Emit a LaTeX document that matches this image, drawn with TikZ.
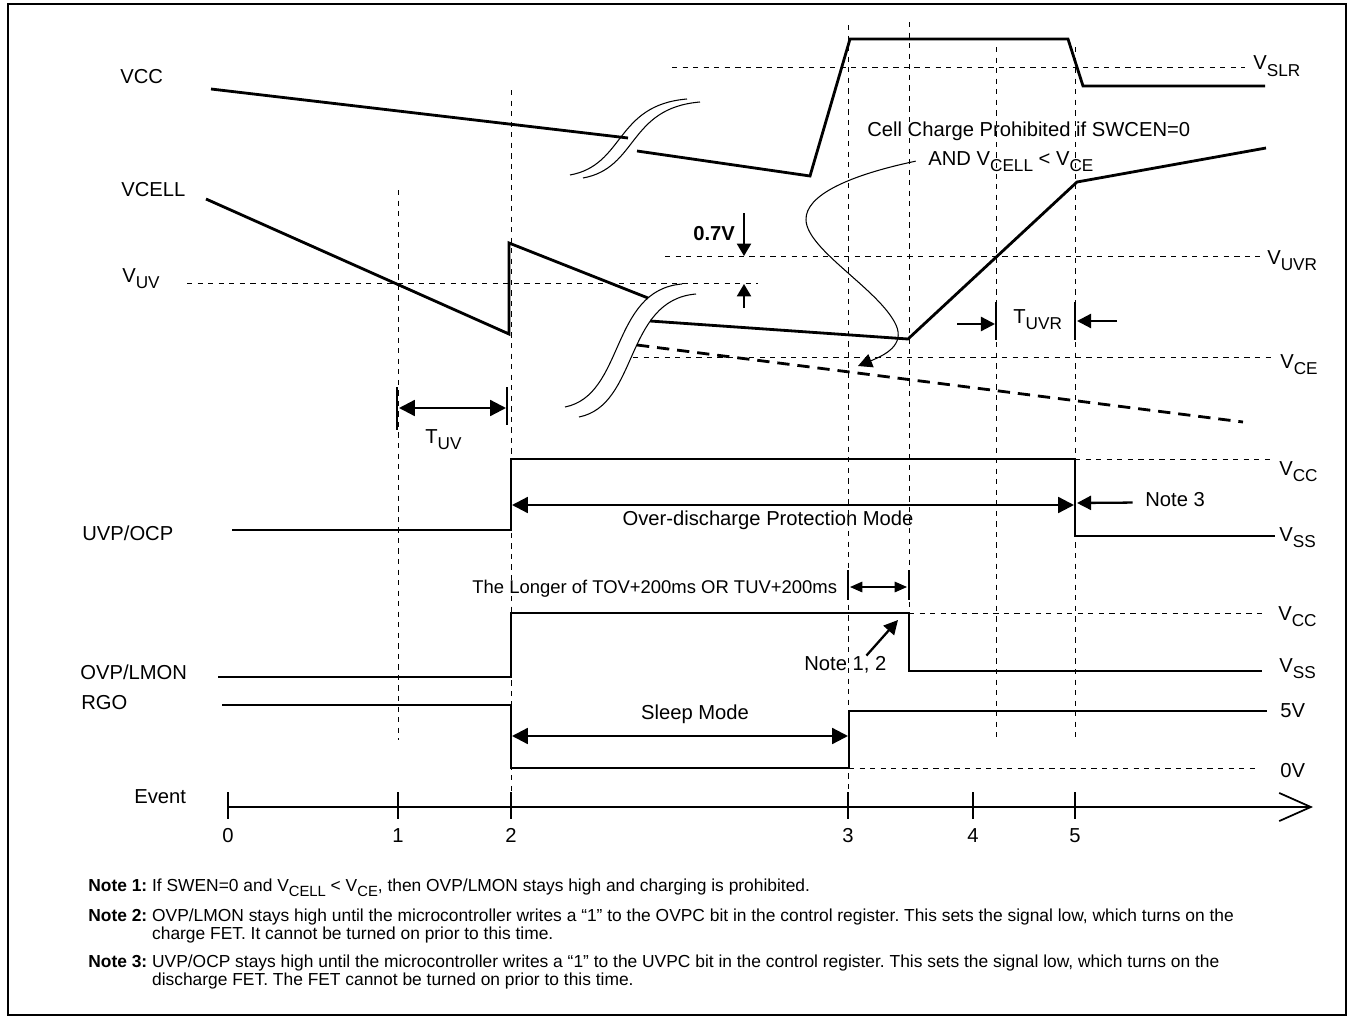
\documentclass[tikz,border=0pt]{standalone}
\usepackage{fontspec}
\setmainfont{Liberation Sans}
\usetikzlibrary{arrows.meta}
\newcommand{\lo}[1]{\raisebox{-0.3em}{\scalebox{0.85}{#1}}}
\frenchspacing
\begin{document}
\begin{tikzpicture}[x=0.02cm,y=-0.02cm,
  sig/.style={line width=1.6pt},
  refl/.style={line width=0.5pt,dash pattern=on 3pt off 3pt},
  brk/.style={line width=0.6pt},
  bar/.style={line width=1pt},
  dim/.style={line width=1.3pt,{Triangle[length=9pt,width=9pt]}-{Triangle[length=9pt,width=9pt]}},
  ptr/.style={line width=1.3pt,-{Triangle[length=8pt,width=8pt]}},
  lbl/.style={font=\fontsize{11.5}{13.5}\selectfont,inner sep=0pt,anchor=base west},
  note/.style={font=\fontsize{9.9}{10.4}\selectfont,inner sep=0pt,anchor=base west}]
\useasboundingbox (0,0) rectangle (1353,1021);
\draw[line width=0.8pt] (8,4) rectangle (1346,1015);
\foreach \x/\a/\b in {398/190/740,511/90/792,848/25/792,909/22/612,996/47/740,1075/47/740}
  \draw[refl] (\x,\a) -- (\x,\b);
\foreach \y/\a/\b in {67/672/1245,256/665/1260,283/187/758,357/633/1271,459/1075/1273,613/909/1264,768/849/1260}
  \draw[refl] (\a,\y) -- (\b,\y);
\node[lbl] (vcc) at (120,83) {VCC};
\node[lbl] (vcell) at (121,196) {VCELL};
\node[lbl] (vuv) at (122,282) {V\lo{UV}};
\node[lbl] (uvp) at (82,540) {UVP/OCP};
\node[lbl] (ovp) at (80,679) {OVP/LMON};
\node[lbl] (rgo) at (81,709) {RGO};
\node[lbl] (event) at (134,803) {Event};
\node[lbl] (vslr) at (1253,70) {V\lo{SLR}};
\node[lbl] (vuvr) at (1267,264) {V\lo{UVR}};
\node[lbl] (vce) at (1280,368) {V\lo{CE}};
\node[lbl] (vcca) at (1279,475) {V\lo{CC}};
\node[lbl] (vssa) at (1279,541) {V\lo{SS}};
\node[lbl] (vccb) at (1278,620) {V\lo{CC}};
\node[lbl] (vssb) at (1279,672) {V\lo{SS}};
\node[lbl] (fivev) at (1280,717) {5V};
\node[lbl] (zerov) at (1280,777) {0V};
\draw[sig] (211,89) -- (628,138);
\draw[sig] (637,151) -- (810,176) -- (850,39) -- (1068,39) -- (1083,86) -- (1265,86);
\draw[sig] (206,199) -- (509,334) -- (509,243) -- (648,298);
\draw[sig] (650,321) -- (908,339) -- (1077,182) -- (1266,148);
\draw[sig,dash pattern=on 7pt off 4.5pt] (637,345) -- (1243,422);
\draw[sig] (232,530) -- (511,530) -- (511,459) -- (1075,459) -- (1075,536) -- (1275,536);
\draw[sig] (218,677) -- (511,677) -- (511,613) -- (909,613) -- (909,671) -- (1262,671);
\draw[sig] (222,705) -- (511,705) -- (511,768) -- (849,768) -- (849,711) -- (1267,711);
\draw[brk] (570,175) .. controls (625,165) and (615,105) .. (687,99);
\draw[brk] (583,178) .. controls (638,168) and (628,108) .. (700,102);
\draw[brk] (565,407) .. controls (625,395) and (610,290) .. (682,284);
\draw[brk] (579,417) .. controls (639,405) and (624,300) .. (696,294);
\node[lbl] (cella) at (867,136) {Cell Charge Prohibited if SWCEN=0};
\node[lbl] (cellb) at (928,165) {AND V\lo{CELL} < V\lo{CE}};
\draw[brk,-{Triangle[length=8pt,width=8pt]}] ([xshift=-7pt]cellb.west) .. controls (850,175) and (805,195) .. (806,220)
  .. controls (807,250) and (880,290) .. (896,325) .. controls (905,345) and (885,355) .. (858,366);
\node[lbl,font=\bfseries\fontsize{11.5}{13.5}\selectfont] (dv) at (693,240) {0.7V};
\draw[line width=1pt,-{Triangle[length=7pt,width=8pt]}] (744,213) -- (744,256);
\draw[line width=1pt,-{Triangle[length=7pt,width=8pt]}] (744,308) -- (744,284);
\draw[bar] (397,387) -- (397,430);
\draw[bar] (507,387) -- (507,425);
\draw[dim] (399,408) -- (506,408);
\node[lbl] (tuv) at (425,443) {T\lo{UV}};
\draw[bar] (996,302) -- (996,340);
\draw[bar] (1075,302) -- (1075,340);
\draw[ptr] (957,324) -- (995,324);
\draw[ptr] (1117,321) -- (1077,321);
\node[lbl] (tuvr) at (1013,323) {T\lo{UVR}};
\draw[dim] (512,505) -- (1074,505);
\node[lbl,anchor=base] (odpm) at (768,525) {Over-discharge Protection Mode};
\node[lbl] (note3) at (1145,506) {Note 3};
\draw[ptr] ([xshift=-7pt,yshift=-2pt]note3.west) -- (1077,503);
\node[lbl,font=\fontsize{10.5}{12.5}\selectfont] (longer) at (472,593) {The Longer of TOV+200ms OR TUV+200ms};
\draw[line width=0.7pt] (848,570) -- (848,600);
\draw[line width=0.7pt] (909,570) -- (909,600);
\draw[line width=0.7pt,{Triangle[length=7pt,width=6pt]}-{Triangle[length=7pt,width=6pt]}] (850,587) -- (907,587);
\node[lbl] (note12) at (804,670) {Note 1, 2};
\draw[ptr] ([xshift=12pt]note12.north) -- (898,620);
\draw[dim] (512,736) -- (848,736);
\node[lbl,anchor=base] (sleep) at (695,719) {Sleep Mode};
\draw[line width=1.6pt,-{Straight Barb[length=18pt,width=16pt,line width=1pt]}] (228,807) -- (1313,807);
\foreach \x/\t in {228/0,398/1,511/2,848/3,973/4,1075/5} {
  \draw[line width=0.8pt] (\x,792) -- (\x,819);
  \node[lbl,anchor=base] (ev\t) at (\x,842) {\t};
}
\node[note] (n1) at (88,891) {\textbf{Note 1:} If SWEN=0 and V\lo{CELL} < V\lo{CE}, then OVP/LMON stays high and charging is prohibited.};
\node[note] (n2) at (88,921) {\begin{tabular}[t]{@{}l@{ }l@{}}\textbf{Note 2:} & OVP/LMON stays high until the microcontroller writes a “1” to the OVPC bit in the control register. This sets the signal low, which turns on the\\ & charge FET. It cannot be turned on prior to this time.\end{tabular}};
\node[note] (n3) at (88,967) {\begin{tabular}[t]{@{}l@{ }l@{}}\textbf{Note 3:} & UVP/OCP stays high until the microcontroller writes a “1” to the UVPC bit in the control register. This sets the signal low, which turns on the\\ & discharge FET. The FET cannot be turned on prior to this time.\end{tabular}};
\end{tikzpicture}
\end{document}
